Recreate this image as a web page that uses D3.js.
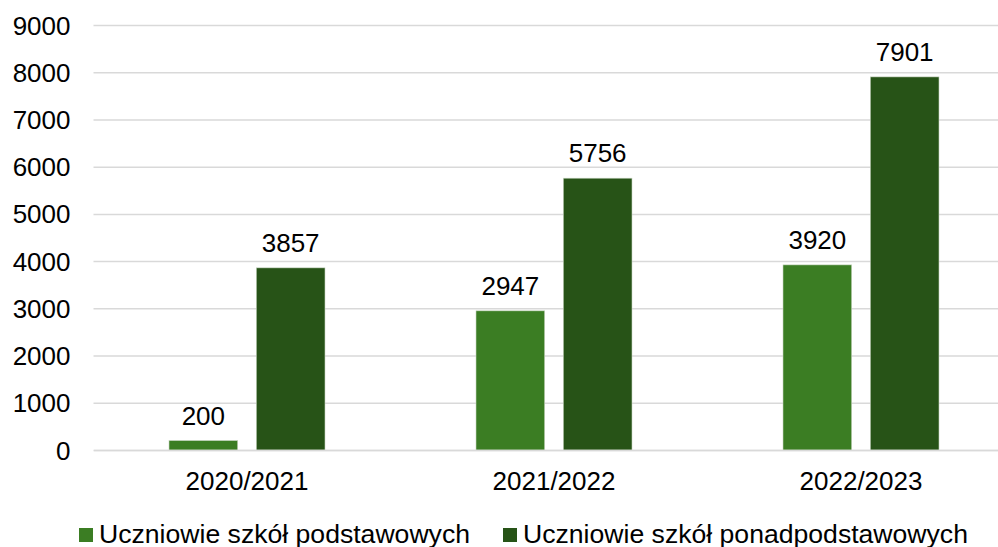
<!DOCTYPE html>
<html><head><meta charset="utf-8">
<script src="https://cdn.jsdelivr.net/npm/d3@7"></script>
<style>html,body{margin:0;padding:0;background:#fff;overflow:hidden}svg{display:block;font-family:"Liberation Sans",Arial,sans-serif}</style>
</head><body>
<svg id="chart" width="998" height="547"></svg>
<script>
const categories = ["2020/2021", "2021/2022", "2022/2023"];
const seriesNames = ["Uczniowie szkół podstawowych", "Uczniowie szkół ponadpodstawowych"];
const primaryValues = [200, 2947, 3920];
const secondaryValues = [3857, 5756, 7901];
const yTicks = [0, 1000, 2000, 3000, 4000, 5000, 6000, 7000, 8000, 9000];
const colors = ["#3B7D23", "#275317"];

const svg = d3.select("#chart");
const fs = 26;
const y = d3.scaleLinear().domain([0, 9000]).range([450, 25]);
const x = d3.scaleBand().domain(categories).range([93.5, 1014.5]).padding(0);
const xs = d3.scaleBand().domain(seriesNames).range([75.5, 231.5]).paddingInner(0.213).paddingOuter(0);

// gridlines
const yAxis = d3.axisLeft(y).tickValues(yTicks).tickSize(-(1014.5 - 93.5)).tickFormat(d => d);
const gy = svg.append("g").attr("transform", "translate(93.5,0)").call(yAxis);
gy.select(".domain").remove();
gy.selectAll(".tick line").attr("stroke", "#d9d9d9").attr("stroke-width", 1.5);
gy.selectAll(".tick text").attr("x", -23).attr("fill", "#000").attr("font-size", fs)
  .attr("font-family", "'Liberation Sans', Arial, sans-serif").attr("dy", "0.35em");

const data = categories.map((c, i) => ({cat: c, vals: [primaryValues[i], secondaryValues[i]]}));

const groups = svg.append("g").selectAll("g").data(data).join("g")
  .attr("transform", d => `translate(${x(d.cat)},0)`);
groups.selectAll("rect").data(d => d.vals.map((v, j) => ({v, s: seriesNames[j], j}))).join("rect")
  .attr("x", d => xs(d.s)).attr("width", xs.bandwidth())
  .attr("y", d => y(d.v)).attr("height", d => y(0) - y(d.v))
  .attr("fill", d => colors[d.j]).attr("stroke", "#c9d6c3").attr("stroke-width", 0.6);
groups.selectAll("text.lbl").data(d => d.vals.map((v, j) => ({v, s: seriesNames[j], j}))).join("text")
  .attr("class", "lbl")
  .attr("x", d => xs(d.s) + xs.bandwidth() / 2).attr("y", d => y(d.v) - 16)
  .attr("text-anchor", "middle").attr("font-size", fs).attr("fill", "#000").text(d => d.v);

// x axis
const xAxis = d3.axisBottom(x).tickSize(0).tickPadding(0);
const gx = svg.append("g").attr("transform", "translate(0,450)").call(xAxis);
gx.select(".domain").attr("stroke", "#d9d9d9").attr("stroke-width", 1.5);
gx.selectAll(".tick text").attr("y", 40).attr("dy", 0).attr("font-size", fs).attr("fill", "#000")
  .attr("font-family", "'Liberation Sans', Arial, sans-serif");
gx.selectAll(".tick text").attr("x", 0).attr("text-anchor", "middle");
gx.selectAll(".tick").attr("transform", d => `translate(${x(d) + 153.5},0)`);

// legend
const legendX = [79, 503];
const leg = svg.append("g").selectAll("g").data(seriesNames).join("g")
  .attr("transform", (d, i) => `translate(${legendX[i]},0)`);
leg.append("rect").attr("x", 0).attr("y", 528).attr("width", 14).attr("height", 14)
  .attr("fill", (d, i) => colors[i]);
leg.append("text").attr("x", 20).attr("y", 543).attr("font-size", 26.6).attr("fill", "#000").text(d => d);
</script>
</body></html>
